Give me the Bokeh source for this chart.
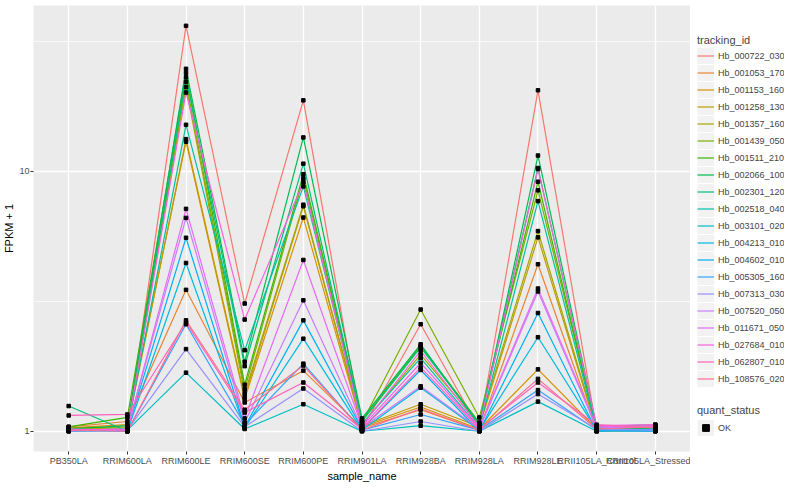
from bokeh.plotting import figure
from bokeh.layouts import row
from bokeh.models import Range1d, FixedTicker, NumeralTickFormatter, Legend, LegendItem
from bokeh.core.properties import value
from bokeh.embed import file_html
from bokeh.resources import INLINE

# ---------------- data (FPKM + 1) ----------------
samples = ["PB350LA", "RRIM600LA", "RRIM600LE", "RRIM600SE", "RRIM600PE",
           "RRIM901LA", "RRIM928BA", "RRIM928LA", "RRIM928LE",
           "RRII105LA_Control", "RRII105LA_Stressed"]

hb_000722_030 = [1.02, 1.00, 36.3, 3.10, 18.75, 1.02, 2.58, 1.02, 20.5, 1.01, 1.02]
hb_001053_170 = [1.04, 1.09, 3.50, 1.29, 1.71, 1.03, 1.21, 1.01, 4.39, 1.00, 1.01]
hb_001153_160 = [1.03, 1.06, 13.0, 1.33, 6.64, 1.04, 1.24, 1.02, 1.73, 1.02, 1.03]
hb_001258_130 = [1.02, 1.03, 13.3, 1.36, 7.34, 1.05, 1.27, 1.04, 5.57, 1.01, 1.02]
hb_001357_160 = [1.01, 1.02, 21.1, 1.40, 7.44, 1.06, 1.97, 1.06, 5.89, 1.02, 1.04]
hb_001439_050 = [1.03, 1.04, 22.1, 1.45, 9.40, 1.08, 2.94, 1.13, 8.45, 1.03, 1.05]
hb_001511_210 = [1.04, 1.13, 23.9, 1.51, 9.75, 1.10, 2.13, 1.08, 9.12, 1.02, 1.03]
hb_002066_100 = [1.02, 1.05, 24.8, 1.85, 13.5, 1.12, 2.16, 1.05, 11.5, 1.04, 1.06]
hb_002301_120 = [1.25, 1.00, 23.0, 1.78, 10.7, 1.09, 2.10, 1.07, 10.3, 1.03, 1.02]
hb_002518_040 = [1.01, 1.02, 15.1, 2.05, 8.75, 1.07, 1.91, 1.03, 7.68, 1.01, 1.00]
hb_003101_020 = [1.00, 1.01, 1.68, 1.02, 1.27, 1.00, 1.05, 1.00, 1.30, 1.00, 1.00]
hb_004213_010 = [1.01, 1.00, 4.44, 1.03, 2.27, 1.01, 1.47, 1.01, 2.30, 1.01, 1.01]
hb_004602_010 = [1.00, 1.01, 5.55, 1.04, 2.67, 1.02, 1.72, 1.00, 2.85, 1.00, 1.02]
hb_005305_160 = [1.01, 1.00, 2.58, 1.06, 1.82, 1.01, 1.16, 1.01, 1.44, 1.01, 1.00]
hb_007313_030 = [1.00, 1.01, 2.07, 1.04, 1.46, 1.00, 1.09, 1.00, 1.39, 1.02, 1.01]
hb_007520_050 = [1.01, 1.02, 6.62, 1.08, 3.19, 1.03, 1.49, 1.02, 3.45, 1.03, 1.04]
hb_011671_050 = [1.02, 1.01, 7.17, 1.12, 4.56, 1.04, 1.83, 1.03, 3.54, 1.04, 1.05]
hb_027684_010 = [1.01, 1.02, 20.1, 2.69, 9.08, 1.05, 2.04, 1.04, 10.2, 1.05, 1.06]
hb_062807_010 = [1.15, 1.16, 2.62, 1.18, 1.54, 1.02, 1.76, 1.02, 1.54, 1.06, 1.03]
hb_108576_020 = [1.01, 1.00, 2.67, 1.21, 1.79, 1.01, 1.22, 1.01, 1.59, 1.02, 1.04]

tracking_ids = ["Hb_000722_030", "Hb_001053_170", "Hb_001153_160", "Hb_001258_130",
                "Hb_001357_160", "Hb_001439_050", "Hb_001511_210", "Hb_002066_100",
                "Hb_002301_120", "Hb_002518_040", "Hb_003101_020", "Hb_004213_010",
                "Hb_004602_010", "Hb_005305_160", "Hb_007313_030", "Hb_007520_050",
                "Hb_011671_050", "Hb_027684_010", "Hb_062807_010", "Hb_108576_020"]
series = [hb_000722_030, hb_001053_170, hb_001153_160, hb_001258_130, hb_001357_160,
          hb_001439_050, hb_001511_210, hb_002066_100, hb_002301_120, hb_002518_040,
          hb_003101_020, hb_004213_010, hb_004602_010, hb_005305_160, hb_007313_030,
          hb_007520_050, hb_011671_050, hb_027684_010, hb_062807_010, hb_108576_020]
quant_levels = ["OK"]

# ---------------- styles ----------------
colors = ["#F8766D", "#EA8331", "#D89000", "#C09B00", "#A3A500", "#7CAE00", "#39B600",
          "#00BB4E", "#00BF7D", "#00C1A3", "#00BFC4", "#00BAE0", "#00B0F6", "#35A2FF",
          "#9590FF", "#C77CFF", "#E76BF3", "#FA62DB", "#FF62BC", "#FF6C91"]
FONT = "Liberation Sans"

xs = list(range(len(samples)))

p = figure(width=690, height=484, y_axis_type="log",
           x_range=Range1d(-0.6, len(samples) - 1 + 0.6),
           y_range=Range1d(10 ** -0.078, 10 ** 1.638),
           output_backend="svg", toolbar_location=None,
           min_border_left=0, min_border_right=0, min_border_top=5, min_border_bottom=0)
p.background_fill_color = "#EBEBEB"
p.border_fill_color = "white"
p.outline_line_color = None

# grids
p.xgrid.ticker = FixedTicker(ticks=xs, minor_ticks=[])
p.xgrid.grid_line_color = "white"
p.xgrid.grid_line_width = 1.4
p.ygrid.ticker = FixedTicker(ticks=[1, 10], minor_ticks=[10 ** 0.5, 10 ** 1.5])
p.ygrid.grid_line_color = "white"
p.ygrid.grid_line_width = 1.4
p.ygrid.minor_grid_line_color = "white"
p.ygrid.minor_grid_line_width = 0.7

# axes
p.xaxis.ticker = FixedTicker(ticks=xs, minor_ticks=[])
p.xaxis.major_label_overrides = {i: s for i, s in enumerate(samples)}
p.yaxis.ticker = FixedTicker(ticks=[1, 10], minor_ticks=[])
p.yaxis.formatter = NumeralTickFormatter(format="0")
for ax in (p.xaxis, p.yaxis):
    ax.axis_line_color = None
    ax.major_tick_line_color = "#333333"
    ax.major_tick_out = 3
    ax.major_tick_in = 0
    ax.minor_tick_line_color = None
    ax.major_label_text_font = FONT
    ax.major_label_text_font_size = "9px"
    ax.major_label_text_color = "#4D4D4D"
    ax.major_label_standoff = 1
    ax.axis_label_text_font = FONT
    ax.axis_label_text_font_size = "11px"
    ax.axis_label_text_font_style = "normal"
    ax.axis_label_text_color = "black"
    ax.axis_label_standoff = 1
p.xaxis.axis_label = "sample_name"
p.yaxis.axis_label = "FPKM + 1"

for vals, col in zip(series, colors):
    p.line(x=xs, y=vals, line_color=col, line_width=1.2)
for vals in series:
    p.scatter(x=xs, y=vals, marker="square", size=3.5, color="black")

# ---------------- legend column ----------------
q = figure(width=94, height=484, x_range=Range1d(0, 1), y_range=Range1d(0, 1),
           output_backend="svg", toolbar_location=None,
           x_axis_location=None, y_axis_location=None, min_border=0)
q.xgrid.visible = False
q.ygrid.visible = False
q.outline_line_color = None
q.background_fill_color = "white"
q.border_fill_color = "white"

bg = q.line(x=[-5, -4], y=[-5, -5], line_color="#F2F2F2", line_width=16)
items = []
for name, col in zip(tracking_ids, colors):
    r = q.line(x=[-5, -4], y=[-5, -5], line_color=col, line_width=1.2)
    items.append(LegendItem(label=value(name), renderers=[bg, r]))

common = dict(orientation="vertical", glyph_width=17, glyph_height=17, label_height=17,
              spacing=0, padding=0, margin=0, border_line_color=None,
              background_fill_alpha=0, label_text_font=FONT, label_text_font_size="9px",
              label_standoff=4, title_text_font=FONT, title_text_font_size="11px",
              title_text_font_style="normal")
leg1 = Legend(items=items, title="tracking_id", location=(7, 64), title_standoff=1, **common)
q.add_layout(leg1)

pt = q.scatter(x=[-5], y=[-5], marker="square", size=5, color="black")
leg2 = Legend(items=[LegendItem(label=value(quant_levels[0]), renderers=[bg, pt])],
              title="quant_status", location=(7, 15), title_standoff=3, **common)
q.add_layout(leg2)

layout = row(p, q)
open("out.html", "w").write(file_html(layout, INLINE))
